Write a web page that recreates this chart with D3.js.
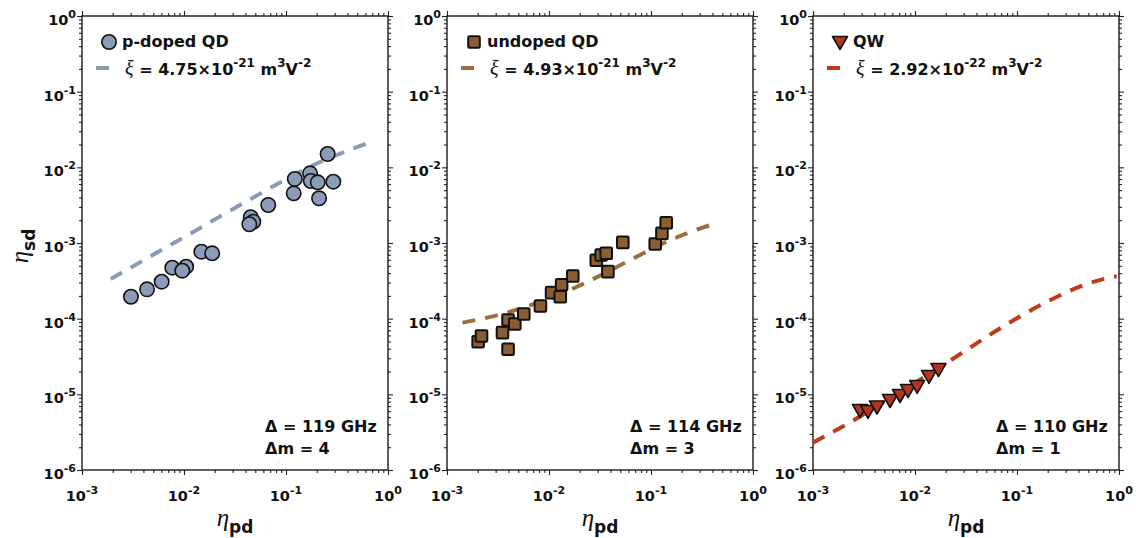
<!DOCTYPE html>
<html><head><meta charset="utf-8">
<script src="https://cdn.jsdelivr.net/npm/d3@7"></script>
<style>body{margin:0;background:#fff} svg{display:block}</style>
</head><body><svg id="c" width="1136" height="538"></svg>
<script>
// ---------- data ----------
const xTickExps = [-3, -2, -1, 0];
const yTickExps = [0, -1, -2, -3, -4, -5, -6];
const seriesNames = ["p-doped QD", "undoped QD", "QW"];
const xiMantissa = ["4.75", "4.93", "2.92"];
const xiExponent = ["-21", "-21", "-22"];
const deltaGHz = [119, 114, 110];
const deltaM = [4, 3, 1];

const pdopedEtaPd = [0.00302,0.00434,0.00604,0.00768,0.0105,0.00962,0.0148,0.0189,0.0451,0.0478,0.0437,0.067,0.119,0.122,0.172,0.175,0.205,0.291,0.211,0.256];
const pdopedEtaSd = [1.95e-4,2.44e-4,3.08e-4,4.72e-4,4.86e-4,4.31e-4,7.67e-4,7.31e-4,2.19e-3,1.91e-3,1.77e-3,3.18e-3,4.54e-3,7.02e-3,8.34e-3,6.60e-3,6.34e-3,6.46e-3,3.90e-3,1.50e-2];
const pdopedFitX = [1.91e-3,4.64e-3,8.17e-3,1.44e-2,2.52e-2,4.37e-2,7.5e-2,0.132,0.232,0.441,0.692];
const pdopedFitY = [3.34e-4,6.61e-4,1.02e-3,1.58e-3,2.45e-3,3.72e-3,5.62e-3,8.51e-3,1.23e-2,1.74e-2,2.19e-2];

const undopedEtaPd = [2.02e-3,2.18e-3,3.50e-3,3.97e-3,3.97e-3,4.62e-3,5.66e-3,8.24e-3,1.06e-2,1.29e-2,1.33e-2,1.71e-2,2.91e-2,3.25e-2,3.64e-2,3.78e-2,5.29e-2,0.110,0.128,0.141];
const undopedEtaSd = [4.96e-5,5.91e-5,6.53e-5,3.94e-5,9.61e-5,8.51e-5,1.15e-4,1.47e-4,2.21e-4,1.95e-4,2.81e-4,3.66e-4,5.91e-4,6.94e-4,7.31e-4,4.18e-4,1.02e-3,9.70e-4,1.34e-3,1.85e-3];
const undopedFitX = [1.42e-3,3.69e-3,6.73e-3,1.25e-2,2.28e-2,4.07e-2,7.24e-2,0.132,0.237,0.449];
const undopedFitY = [8.85e-5,1.18e-4,1.52e-4,2.06e-4,2.99e-4,4.40e-4,6.59e-4,9.91e-4,1.38e-3,1.85e-3];

const qwEtaPd = [2.89e-3,3.46e-3,4.24e-3,5.69e-3,7.13e-3,8.54e-3,1.05e-2,1.37e-2,1.70e-2];
const qwEtaSd = [6.21e-6,6.03e-6,6.91e-6,8.41e-6,9.80e-6,1.14e-5,1.29e-5,1.75e-5,2.16e-5];
const qwFitX = [1.0e-3,2.31e-3,4.54e-3,1.76e-2,3.59e-2,6.08e-2,0.107,0.188,0.331,0.604,0.949];
const qwFitY = [2.30e-6,4.27e-6,7.41e-6,2.29e-5,4.27e-5,6.76e-5,1.07e-4,1.62e-4,2.34e-4,3.16e-4,3.63e-4];

// ---------- styles ----------
const markerFill = ["#8a9cb7", "#8b5d33", "#b5361b"];
const lineColor  = ["#8a9bb4", "#9c6e3d", "#c03b1d"];
const markerType = ["circle", "square", "triangle"];
const panels = [
  {xs: pdopedEtaPd, ys: pdopedEtaSd, fx: pdopedFitX, fy: pdopedFitY},
  {xs: undopedEtaPd, ys: undopedEtaSd, fx: undopedFitX, fy: undopedFitY},
  {xs: qwEtaPd, ys: qwEtaSd, fx: qwFitX, fy: qwFitY}
];
const panelLeft = [82, 447, 813];
const panelW = 306, plotTop = 16, plotBottom = 470;
const SANS = "'DejaVu Sans', sans-serif";
const SERIF = "'Liberation Serif', 'DejaVu Serif', serif";

const svg = d3.select("#c");

function minorVals(lo, hi) {
  const v = [];
  for (let e = lo; e < hi; e++) for (let k = 2; k <= 9; k++) v.push(k * Math.pow(10, e));
  return v;
}

function drawMarker(g, type, cx, cy, fill) {
  if (type === "circle") {
    g.append("circle").attr("cx", cx).attr("cy", cy).attr("r", 7.2)
      .attr("fill", fill).attr("stroke", "#111").attr("stroke-width", 1.6);
  } else if (type === "square") {
    g.append("rect").attr("x", cx - 5.8).attr("y", cy - 5.8).attr("width", 11.6).attr("height", 11.6)
      .attr("rx", 1.2).attr("fill", fill).attr("stroke", "#111").attr("stroke-width", 2)
      .attr("stroke-linejoin", "round");
  } else {
    g.append("path").attr("d", `M${cx-7.5},${cy-5.5}L${cx+7.5},${cy-5.5}L${cx},${cy+7.5}Z`)
      .attr("fill", fill).attr("stroke", "#111").attr("stroke-width", 1.6)
      .attr("stroke-linejoin", "round");
  }
}

panels.forEach((p, i) => {
  const L = panelLeft[i], R = L + panelW;
  const x = d3.scaleLog().domain([1e-3, 1]).range([L, R]);
  const y = d3.scaleLog().domain([1e-6, 1]).range([plotBottom, plotTop]);
  const g = svg.append("g");

  const xMaj = xTickExps.map(e => Math.pow(10, e));
  const yMaj = yTickExps.map(e => Math.pow(10, e));
  const xMin = minorVals(-3, 0), yMin = minorVals(-6, 0);

  const axes = [
    [d3.axisBottom(x), `translate(0,${plotBottom})`, xMaj, xMin],
    [d3.axisTop(x), `translate(0,${plotTop})`, xMaj, xMin],
    [d3.axisLeft(y), `translate(${L},0)`, yMaj, yMin],
    [d3.axisRight(y), `translate(${R},0)`, yMaj, yMin]
  ];
  axes.forEach(([ax, tr, maj, min]) => {
    const a1 = g.append("g").attr("transform", tr)
      .call(ax.tickValues(maj).tickSize(5).tickSizeOuter(0).tickFormat(""));
    const a2 = g.append("g").attr("transform", tr)
      .call(ax.tickValues(min).tickSize(3).tickSizeOuter(0).tickFormat(""));
    [a1, a2].forEach(a => {
      a.select(".domain").remove();
      a.selectAll("line").attr("stroke", "#222").attr("stroke-width", 1.1);
    });
  });
  g.append("rect").attr("x", L).attr("y", plotTop).attr("width", panelW).attr("height", plotBottom - plotTop)
    .attr("fill", "none").attr("stroke", "#1a1a1a").attr("stroke-width", 1.4);

  // x tick labels
  xTickExps.forEach(e => {
    const t = g.append("text").attr("x", x(Math.pow(10, e))).attr("y", 501)
      .attr("text-anchor", "middle").attr("font-family", SANS).attr("font-weight", "bold")
      .attr("font-size", 14.5).attr("fill", "#111");
    t.append("tspan").text("10");
    t.append("tspan").attr("font-size", 11).attr("dy", -7).text(String(e));
  });
  // y tick labels
  yTickExps.forEach(e => {
    const t = g.append("text").attr("x", L - 6).attr("y", y(Math.pow(10, e)) + 9)
      .attr("text-anchor", "end").attr("font-family", SANS).attr("font-weight", "bold")
      .attr("font-size", 14.5).attr("fill", "#111");
    t.append("tspan").text("10");
    t.append("tspan").attr("font-size", 11).attr("dy", -7).text(String(e));
  });

  // x axis title
  const xt = g.append("text").attr("x", (L + R) / 2).attr("y", 526).attr("text-anchor", "middle").attr("fill", "#111");
  xt.append("tspan").attr("font-family", SERIF).attr("font-style", "italic").attr("font-size", 25).text("η");
  xt.append("tspan").attr("font-family", SANS).attr("font-weight", "bold").attr("font-size", 17).attr("dy", 7).text("pd");

  // fit line
  const fitData = p.fx.map((v, k) => [v, p.fy[k]]);
  g.append("path").datum(fitData)
    .attr("d", d3.line().x(d => x(d[0])).y(d => y(d[1])).curve(d3.curveMonotoneX))
    .attr("fill", "none").attr("stroke", lineColor[i]).attr("stroke-width", 4)
    .attr("stroke-dasharray", "13,10");

  // markers
  const mg = g.append("g");
  p.xs.forEach((v, k) => drawMarker(mg, markerType[i], x(v), y(p.ys[k]), markerFill[i]));

  // legend
  drawMarker(g, markerType[i], L + 27, 42, markerFill[i]);
  g.append("text").attr("x", L + 40).attr("y", 47).attr("font-family", SANS).attr("font-weight", "bold")
    .attr("font-size", 16).attr("fill", "#111").text(seriesNames[i]);
  g.append("line").attr("x1", L + 14).attr("x2", L + 27).attr("y1", 68).attr("y2", 68)
    .attr("stroke", lineColor[i]).attr("stroke-width", 4);
  const lt = g.append("text").attr("x", L + 43).attr("y", 75).attr("font-family", SANS)
    .attr("font-weight", "bold").attr("font-size", 16).attr("fill", "#111");
  lt.append("tspan").attr("font-family", SERIF).attr("font-style", "italic").attr("font-weight", "normal")
    .attr("font-size", 20).text("ξ");
  lt.append("tspan").text(" = " + xiMantissa[i] + "×10");
  lt.append("tspan").attr("font-size", 12).attr("dy", -8).text(xiExponent[i]);
  lt.append("tspan").attr("dy", 8).text(" m");
  lt.append("tspan").attr("font-size", 12).attr("dy", -8).text("3");
  lt.append("tspan").attr("dy", 8).text("V");
  lt.append("tspan").attr("font-size", 12).attr("dy", -8).text("-2");

  // annotation
  g.append("text").attr("x", L + 183).attr("y", 432).attr("font-family", SANS).attr("font-weight", "bold")
    .attr("font-size", 16).attr("fill", "#111").text("Δ = " + deltaGHz[i] + " GHz");
  g.append("text").attr("x", L + 183).attr("y", 454).attr("font-family", SANS).attr("font-weight", "bold")
    .attr("font-size", 16).attr("fill", "#111").text("Δm = " + deltaM[i]);
});

// y axis title
const yt = svg.append("text").attr("transform", "translate(28,246) rotate(-90)")
  .attr("text-anchor", "middle").attr("fill", "#111");
yt.append("tspan").attr("font-family", SERIF).attr("font-style", "italic").attr("font-size", 25).text("η");
yt.append("tspan").attr("font-family", SANS).attr("font-weight", "bold").attr("font-size", 17).attr("dy", 7).text("sd");
</script></body></html>
